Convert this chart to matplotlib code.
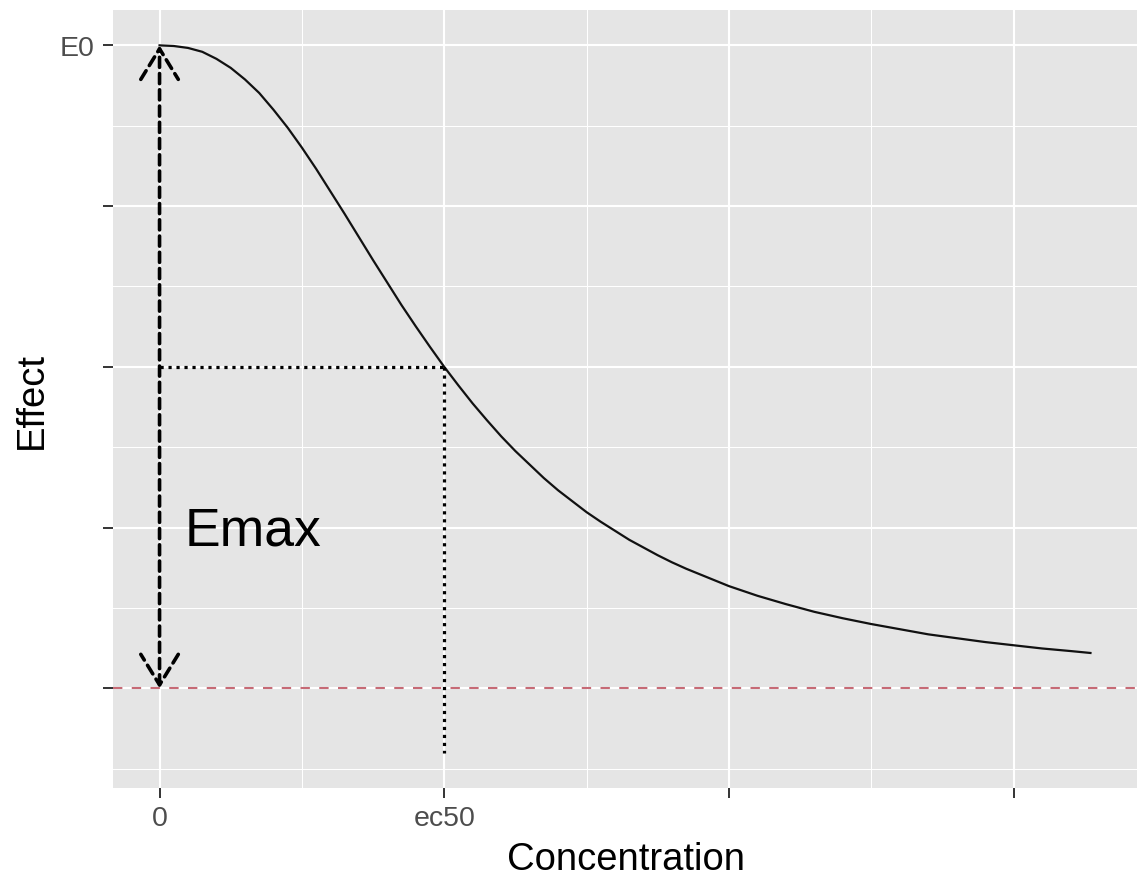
import matplotlib
matplotlib.use("Agg")
import matplotlib.pyplot as plt

# === DATA ===
conc = [0.0, 0.05, 0.1, 0.15, 0.2, 0.25, 0.3, 0.35, 0.4, 0.45, 0.5,
        0.55, 0.6, 0.65, 0.7, 0.75, 0.8, 0.85, 0.9, 0.95, 1.0,
        1.05, 1.1, 1.15, 1.2, 1.25, 1.3, 1.35, 1.4, 1.45, 1.5,
        1.55, 1.6, 1.65, 1.7, 1.75, 1.8, 1.85, 1.9, 1.95, 2.0,
        2.1, 2.2, 2.3, 2.4, 2.5, 2.6, 2.7, 2.8, 2.9, 3.0, 3.1, 3.2, 3.27]
effect = [1.0, 0.999, 0.996, 0.990, 0.979, 0.965, 0.947, 0.926, 0.900, 0.872, 0.841,
          0.808, 0.773, 0.738, 0.702, 0.666, 0.631, 0.596, 0.563, 0.531, 0.500,
          0.471, 0.443, 0.417, 0.392, 0.369, 0.348, 0.327, 0.308, 0.291, 0.274,
          0.259, 0.245, 0.231, 0.219, 0.207, 0.196, 0.186, 0.177, 0.168, 0.159,
          0.144, 0.131, 0.119, 0.109, 0.100, 0.092, 0.084, 0.078, 0.072, 0.067, 0.062, 0.058, 0.055]

e0 = 1.0
e_bottom = 0.0
ec50 = 1.0
half_effect = 0.5
dotted_bottom = -0.1

x_ticks = [0, 1, 2, 3]
x_labels = ["0", "ec50", "", ""]
x_minor = [0.5, 1.5, 2.5]
y_ticks = [0, 0.25, 0.5, 0.75, 1.0]
y_labels = ["", "", "", "", "E0"]
y_minor = [-0.125, 0.125, 0.375, 0.625, 0.875]

plt.rcParams["font.family"] = ["Liberation Sans", "DejaVu Sans"]

fig = plt.figure(figsize=(11.41, 8.79), dpi=100)
ax = fig.add_axes([113 / 1141, 1 - 789 / 879, (1137 - 113) / 1141, (789 - 11) / 879])
ax.set_facecolor("#E5E5E5")
for s in ax.spines.values():
    s.set_visible(False)

# ggplot-style expansion (5%)
xmin, xmax = min(conc), max(conc)
ymin, ymax = dotted_bottom, e0
dx, dy = (xmax - xmin) * 0.05, (ymax - ymin) * 0.05
ax.set_xlim(xmin - dx, xmax + dx)
ax.set_ylim(ymin - dy, ymax + dy)

# grid
for v in x_minor:
    ax.axvline(v, color="white", lw=0.75, zorder=0)
for v in y_minor:
    ax.axhline(v, color="white", lw=0.75, zorder=0)
for v in x_ticks:
    ax.axvline(v, color="white", lw=1.5, zorder=0)
for v in y_ticks:
    ax.axhline(v, color="white", lw=1.5, zorder=0)

# curve
ax.plot(conc, effect, color="#111111", lw=1.6, zorder=3, solid_joinstyle="round")

# red baseline
ax.axhline(e_bottom, color="#C66A75", lw=1.5, linestyle=(0, (4.5, 4.5)), zorder=2)

# dotted guides at ec50
ax.plot([0, ec50], [half_effect, half_effect], color="black", lw=2.3,
        linestyle=(0, (1, 1.5)), dash_capstyle="butt", zorder=3)
ax.plot([ec50, ec50], [half_effect, dotted_bottom], color="black", lw=2.3,
        linestyle=(0, (1, 1.5)), dash_capstyle="butt", zorder=3)

# Emax double arrow (dashed)
ax.annotate("", xy=(0, e0), xytext=(0, e_bottom),
            arrowprops=dict(arrowstyle="<->, head_length=22, head_width=13.5",
                            mutation_scale=1, color="black", lw=2.6,
                            linestyle=(0, (2.8, 1.7)), shrinkA=0, shrinkB=0),
            zorder=4)
ax.text(0.088, 0.245, "Emax", fontsize=38.5, color="black", ha="left", va="center")

# ticks
ax.set_xticks(x_ticks)
ax.set_xticklabels(x_labels)
ax.set_yticks(y_ticks)
ax.set_yticklabels(y_labels)
ax.tick_params(axis="both", colors="#333333", length=7, width=1.4,
               labelsize=20.5, labelcolor="#4D4D4D")
ax.tick_params(axis="x", pad=5.5)
ax.tick_params(axis="y", pad=6.5)

# axis titles
fig.text(626 / 1141, 1 - 870 / 879, "Concentration", fontsize=27.5,
         ha="center", va="baseline")
fig.text(42 / 1141, 1 - 401 / 879, "Effect", fontsize=27.5, rotation=90,
         rotation_mode="anchor", ha="center", va="baseline")

fig.savefig("out.png", dpi=100, facecolor="white")
